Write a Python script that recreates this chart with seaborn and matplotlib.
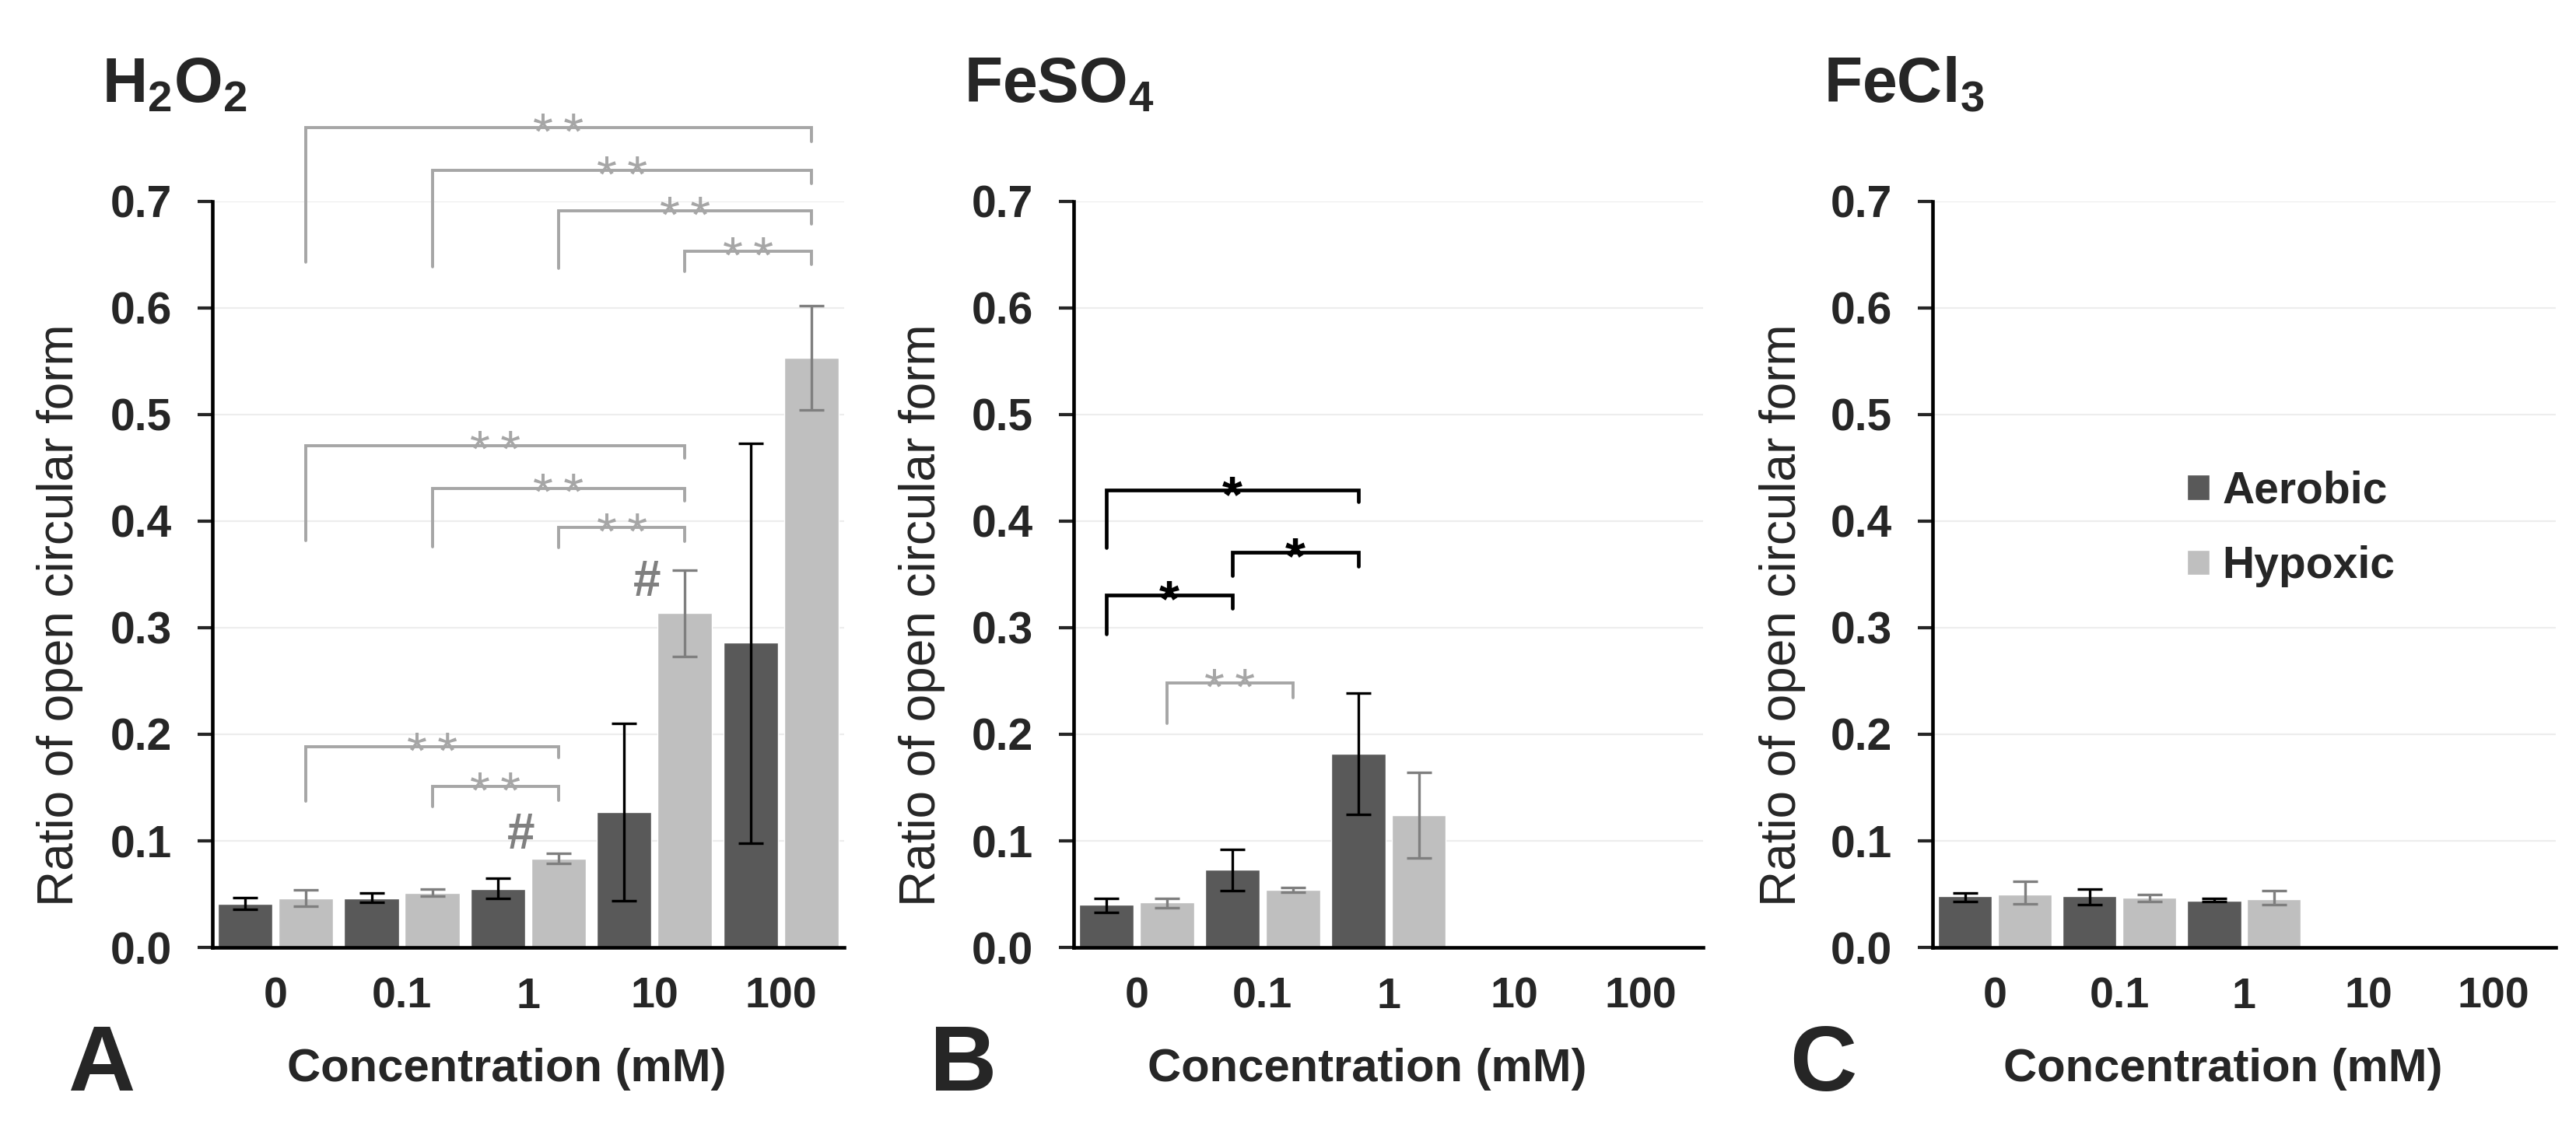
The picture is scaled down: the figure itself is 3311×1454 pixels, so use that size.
import matplotlib
matplotlib.use("Agg")
import matplotlib.pyplot as plt
import numpy as np
import pandas as pd
import seaborn as sns

# ---- data ---------------------------------------------------------------
concentrations = ["0", "0.1", "1", "10", "100"]
conditions = ["Aerobic", "Hypoxic"]

h2o2_aerobic = [0.041, 0.046, 0.055, 0.127, 0.286]
h2o2_aerobic_lo = [0.036, 0.042, 0.046, 0.044, 0.098]
h2o2_aerobic_hi = [0.047, 0.051, 0.065, 0.210, 0.473]
h2o2_hypoxic = [0.046, 0.051, 0.083, 0.314, 0.553]
h2o2_hypoxic_lo = [0.039, 0.048, 0.079, 0.273, 0.504]
h2o2_hypoxic_hi = [0.054, 0.055, 0.088, 0.354, 0.602]

feso4_aerobic = [0.040, 0.073, 0.182]
feso4_aerobic_lo = [0.033, 0.053, 0.125]
feso4_aerobic_hi = [0.046, 0.092, 0.239]
feso4_hypoxic = [0.042, 0.054, 0.124]
feso4_hypoxic_lo = [0.037, 0.052, 0.084]
feso4_hypoxic_hi = [0.046, 0.056, 0.164]

fecl3_aerobic = [0.048, 0.048, 0.044]
fecl3_aerobic_lo = [0.043, 0.040, 0.043]
fecl3_aerobic_hi = [0.051, 0.055, 0.046]
fecl3_hypoxic = [0.050, 0.047, 0.045]
fecl3_hypoxic_lo = [0.041, 0.043, 0.040]
fecl3_hypoxic_hi = [0.062, 0.050, 0.053]

# significance brackets: (from conc, from cond, to conc, to cond, line y, left leg end, right leg end, mark)
h2o2_brackets = [
    ("0", "Hypoxic", "100", "Hypoxic", 0.769, 0.643, 0.756, "**"),
    ("0.1", "Hypoxic", "100", "Hypoxic", 0.729, 0.639, 0.717, "**"),
    ("1", "Hypoxic", "100", "Hypoxic", 0.691, 0.637, 0.679, "**"),
    ("10", "Hypoxic", "100", "Hypoxic", 0.653, 0.634, 0.641, "**"),
    ("0", "Hypoxic", "10", "Hypoxic", 0.471, 0.382, 0.459, "**"),
    ("0.1", "Hypoxic", "10", "Hypoxic", 0.431, 0.376, 0.419, "**"),
    ("1", "Hypoxic", "10", "Hypoxic", 0.394, 0.375, 0.381, "**"),
    ("0", "Hypoxic", "1", "Hypoxic", 0.188, 0.137, 0.178, "**"),
    ("0.1", "Hypoxic", "1", "Hypoxic", 0.151, 0.132, 0.138, "**"),
]
feso4_brackets = [
    ("0", "Aerobic", "1", "Aerobic", 0.429, 0.375, 0.418, "*"),
    ("0.1", "Aerobic", "1", "Aerobic", 0.371, 0.349, 0.358, "*"),
    ("0", "Aerobic", "0.1", "Aerobic", 0.331, 0.294, 0.318, "*"),
    ("0", "Hypoxic", "0.1", "Hypoxic", 0.248, 0.210, 0.234, "**"),
]
# "#" marks (vs aerobic at same concentration): (conc, y)
h2o2_hash = [("1", 0.105), ("10", 0.342)]

DARK = "#595959"
LIGHT = "#BFBFBF"
ERR_COLORS = {"Aerobic": "black", "Hypoxic": "#7F7F7F"}
SIG_GRAY = "#A6A6A6"

sns.set_style("white")
plt.rcParams["font.family"] = ["Liberation Sans", "DejaVu Sans"]
plt.rcParams["font.weight"] = "bold"
plt.rcParams["mathtext.fontset"] = "custom"
plt.rcParams["mathtext.rm"] = "Liberation Sans:bold"
plt.rcParams["mathtext.it"] = "Liberation Sans:bold"
plt.rcParams["mathtext.bf"] = "Liberation Sans:bold"


def make_frame(aer, aer_lo, aer_hi, hyp, hyp_lo, hyp_hi):
    rows = []
    for i in range(len(aer)):
        rows.append((concentrations[i], "Aerobic", aer[i], aer_lo[i], aer_hi[i]))
    for i in range(len(hyp)):
        rows.append((concentrations[i], "Hypoxic", hyp[i], hyp_lo[i], hyp_hi[i]))
    return pd.DataFrame(rows, columns=["conc", "condition", "ratio", "lo", "hi"])


def draw_panel(ax, letter, title, df, brackets, hashes, legend):
    sns.barplot(
        data=df, x="conc", y="ratio", hue="condition",
        order=concentrations, hue_order=conditions,
        palette=[DARK, LIGHT], saturation=1, width=0.96, gap=0.1,
        errorbar=None, legend=legend, ax=ax, zorder=2,
    )

    # bar centres taken from the drawn bars
    centers = {}
    for cond, cont in zip(conditions, ax.containers):
        for bar in cont:
            cx = bar.get_x() + bar.get_width() / 2
            centers[(concentrations[int(round(cx))], cond)] = cx

    for cond in conditions:
        sub = df[df.condition == cond]
        xs = [centers[(c, cond)] for c in sub.conc]
        ax.errorbar(
            xs, sub.ratio, yerr=[sub.ratio - sub.lo, sub.hi - sub.ratio],
            fmt="none", ecolor=ERR_COLORS[cond], elinewidth=2.4,
            capsize=11.5, capthick=2.4, zorder=3,
        )

    for c1, h1, c2, h2, y, yl, yr, mark in brackets:
        x1, x2 = centers[(c1, h1)], centers[(c2, h2)]
        color = "black" if mark == "*" else SIG_GRAY
        lw = 3.4 if mark == "*" else 2.8
        ax.plot([x1, x1, x2, x2], [yl, y, y, yr], color=color, lw=lw,
                clip_on=False, solid_joinstyle="miter", zorder=4)
        if mark == "*":
            ax.annotate("*", ((x1 + x2) / 2, y), xytext=(0, -20),
                        textcoords="offset points", ha="center", va="baseline",
                        fontsize=48, fontweight="bold", color="black",
                        annotation_clip=False)
        else:
            ax.annotate("*\u2009*", ((x1 + x2) / 2, y), xytext=(0, -20),
                        textcoords="offset points", ha="center", va="baseline",
                        fontsize=48, fontweight="normal", color=SIG_GRAY,
                        annotation_clip=False)

    for c, y in hashes:
        ax.text(centers[(c, "Hypoxic")] - 0.30, y, "#", ha="center", va="center",
                fontsize=46, color="#808080")

    # axes styling
    ax.set_xlim(-0.5, 4.5)
    ax.set_ylim(0, 0.7)
    ax.set_xticks(np.arange(-0.5, 5, 1))
    ax.set_xticklabels([])
    ax.set_xticks(range(5), minor=True)
    ax.set_xticklabels(concentrations, minor=True)
    ax.tick_params(axis="x", which="major", length=9.5, width=3, direction="out")
    ax.tick_params(axis="x", which="minor", length=0, pad=27, labelsize=40)
    yt = np.round(np.arange(0, 0.71, 0.1), 1)
    ax.set_yticks(yt)
    ax.set_yticklabels([f"{v:.1f}" for v in yt])
    ax.tick_params(axis="y", length=13.5, width=3, pad=24, labelsize=41, left=True)
    ax.yaxis.grid(True, color="#EDEDED", lw=1.6)
    ax.xaxis.grid(False)
    ax.set_axisbelow(True)
    for side in ["top", "right"]:
        ax.spines[side].set_visible(False)
    for side in ["left", "bottom"]:
        ax.spines[side].set_linewidth(3.3)
        ax.spines[side].set_color("black")

    ax.set_xlabel("Concentration (mM)", fontsize=43, fontweight="bold")
    ax.xaxis.set_label_coords(0.466, -0.135)
    ax.set_ylabel("Ratio of open circular form", fontsize=46, fontweight="normal")
    ax.yaxis.set_label_coords(-0.204, 0.446)

    ax.text(-0.175, 1.133, title, transform=ax.transAxes, fontsize=58,
            fontweight="bold", ha="left", va="baseline")
    ax.text(-0.229, -0.192, letter, transform=ax.transAxes, fontsize=86,
            fontweight="bold", ha="left", va="baseline")

    if legend:
        sns.move_legend(
            ax, loc="center left", bbox_to_anchor=(0.373, 0.561), frameon=False,
            title=None, prop={"size": 41, "weight": "bold"}, handlelength=0.5,
            handleheight=0.5, handletextpad=0.3, labelspacing=0.75, borderpad=0,
        )


fig = plt.figure(figsize=(33.12, 14.54), dpi=100)
ax_a = fig.add_axes([0.0824, 0.1623, 0.2452, 0.6596])
ax_b = fig.add_axes([0.4167, 0.1623, 0.2443, 0.6596])
ax_c = fig.add_axes([0.7500, 0.1623, 0.2418, 0.6596])

draw_panel(ax_a, "A", "H$_2$O$_2$",
           make_frame(h2o2_aerobic, h2o2_aerobic_lo, h2o2_aerobic_hi,
                      h2o2_hypoxic, h2o2_hypoxic_lo, h2o2_hypoxic_hi),
           h2o2_brackets, h2o2_hash, False)
draw_panel(ax_b, "B", "FeSO$_4$",
           make_frame(feso4_aerobic, feso4_aerobic_lo, feso4_aerobic_hi,
                      feso4_hypoxic, feso4_hypoxic_lo, feso4_hypoxic_hi),
           feso4_brackets, [], False)
draw_panel(ax_c, "C", "FeCl$_3$",
           make_frame(fecl3_aerobic, fecl3_aerobic_lo, fecl3_aerobic_hi,
                      fecl3_hypoxic, fecl3_hypoxic_lo, fecl3_hypoxic_hi),
           [], [], True)

fig.savefig("out.png", dpi=100)
